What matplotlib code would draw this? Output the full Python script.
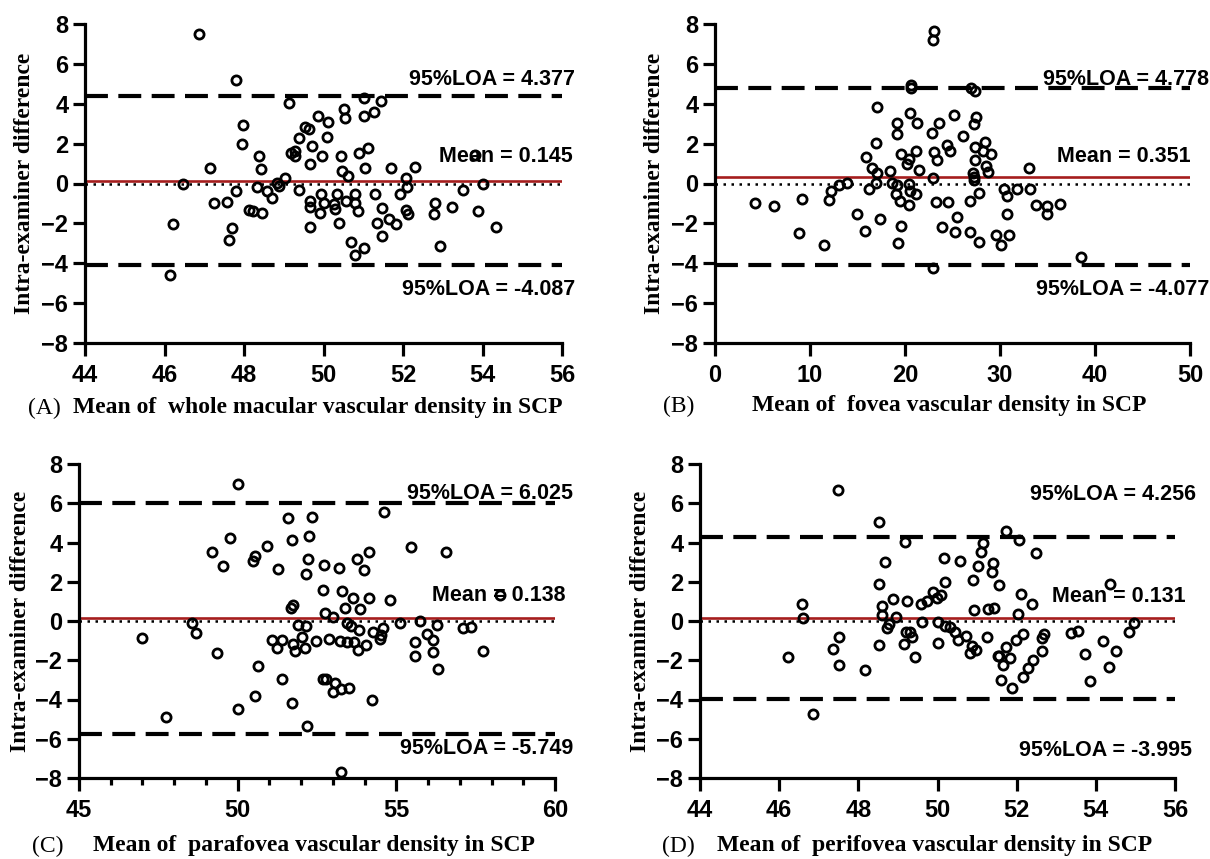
import matplotlib
matplotlib.use('Agg')
import matplotlib.pyplot as plt
from matplotlib.ticker import MultipleLocator

# (A) whole macular vascular density in SCP
whole_x = [46.86, 47.81, 49.14, 47.97, 47.94, 47.15, 46.47, 46.21, 46.14, 47.24,
           47.56, 47.80, 47.70, 47.63, 48.38, 48.42, 48.33, 48.13, 48.23, 48.45,
           48.59, 48.71, 48.83, 48.88, 49.02, 49.17, 49.29, 49.29, 49.38, 49.38,
           49.53, 49.63, 49.67, 49.72, 49.87, 49.96, 50.11, 50.09, 49.67, 49.65,
           49.65, 49.91, 49.94, 50.01, 50.27, 50.30, 50.35, 50.40, 50.44, 50.47,
           50.51, 50.54, 50.62, 50.57, 50.70, 50.78, 50.80, 50.88, 50.78, 50.90,
           51.01, 51.01, 51.03, 51.05, 51.11, 51.27, 51.30, 51.44, 51.34, 51.48,
           51.48, 51.64, 51.69, 51.83, 51.93, 52.08, 52.11, 52.08, 52.13, 52.29,
           52.80, 52.78, 52.93, 53.23, 53.50, 53.81, 53.88, 54.02, 54.34]
whole_y = [7.50, 5.20, 4.03, 2.94, 1.97, 0.76, -0.04, -2.05, -4.60, -1.00,
           -0.91, -0.38, -2.22, -2.85, 1.38, 0.71, -0.16, -1.33, -1.38, -1.50,
           -0.38, -0.71, 0.04, -0.12, 0.29, 1.55, 1.63, 1.38, 2.30, -0.33,
           2.84, 2.72, 0.97, 1.89, 3.39, 1.38, 3.06, 2.35, -0.88, -1.18,
           -2.17, -1.50, -0.54, -0.96, -1.05, -1.30, -0.54, -2.00, 1.38, 0.63,
           3.73, 3.28, 0.38, -0.88, -2.92, -0.54, -0.96, -1.38, -3.59, 1.55,
           -3.22, 4.31, 3.39, 0.80, 1.80, 3.59, -0.54, 4.15, -1.97, -1.21,
           -2.64, -1.80, 0.80, -2.02, -0.54, 0.29, -0.16, -1.33, -1.55, 0.85,
           -0.96, -1.55, -3.14, -1.16, -0.33, 1.43, -1.38, -0.01, -2.17]

# (B) fovea vascular density in SCP
fovea_x = [23.06, 22.98, 20.61, 20.61, 26.94, 27.35, 17.06, 20.49, 19.18, 19.18,
           21.22, 25.18, 23.59, 22.86, 27.47, 27.27, 26.12, 16.94, 23.06, 23.39,
           24.41, 24.69, 19.59, 21.14, 20.41, 20.20, 21.43, 27.35, 27.35, 28.37,
           28.16, 29.10, 28.49, 28.69, 15.92, 16.53, 17.02, 18.37, 22.94, 27.14,
           27.22, 33.06, 16.94, 16.24, 13.88, 13.06, 12.24, 12.04, 18.65, 19.18,
           19.06, 20.41, 20.53, 21.14, 19.51, 20.41, 23.27, 24.49, 26.86, 27.76,
           4.20, 6.20, 9.18, 8.86, 11.43, 14.98, 15.84, 17.35, 19.59, 19.31,
           23.88, 25.43, 25.31, 26.82, 27.76, 30.41, 30.73, 31.84, 30.73, 29.59,
           30.08, 30.90, 33.18, 33.80, 34.90, 34.90, 36.33, 22.94, 38.49, 27.30]
fovea_y = [7.66, 7.19, 4.93, 4.81, 4.81, 4.64, 3.84, 3.55, 3.03, 2.46,
           3.05, 3.42, 3.05, 2.54, 3.33, 2.96, 2.36, 2.04, 1.57, 1.20,
           1.91, 1.63, 1.49, 1.63, 1.24, 0.96, 0.68, 1.81, 1.20, 2.07,
           1.65, 1.48, 0.90, 0.57, 1.32, 0.77, 0.51, 0.63, 0.29, 0.51,
           0.17, 0.77, 0.04, -0.29, 0.04, -0.08, -0.39, -0.81, 0.04, -0.08,
           -0.55, -0.04, -0.38, -0.51, -0.89, -1.06, -0.94, -0.94, -0.86, -0.48,
           -0.96, -1.13, -0.76, -2.46, -3.08, -1.51, -2.37, -1.79, -2.11, -2.97,
           -2.16, -1.69, -2.41, -2.44, -2.91, -0.26, -0.63, -0.29, -1.51, -2.57,
           -3.07, -2.60, -0.29, -1.06, -1.15, -1.53, -1.03, -4.22, -3.71, 0.35]

# (C) parafovea vascular density in SCP
para_x = [50.01, 51.58, 52.34, 54.62, 49.77, 49.20, 49.53, 50.47, 50.55, 50.91,
          51.27, 51.72, 52.26, 52.22, 52.16, 52.72, 53.18, 53.75, 54.13, 53.99,
          55.46, 56.58, 52.70, 53.30, 53.63, 54.15, 54.80, 58.27, 51.67, 51.73,
          53.39, 53.87, 52.76, 52.99, 48.56, 48.68, 46.99, 49.34, 51.90, 52.16,
          53.45, 53.57, 53.81, 54.27, 54.57, 54.51, 54.47, 55.10, 55.74, 55.98,
          56.28, 57.10, 57.36, 51.09, 51.24, 51.41, 51.75, 51.82, 52.03, 52.12,
          52.46, 52.87, 53.24, 53.45, 53.67, 53.79, 54.03, 55.59, 55.59, 56.16,
          56.16, 56.32, 57.73, 50.64, 51.41, 52.69, 52.78, 53.08, 52.99, 53.27,
          53.51, 50.55, 51.70, 54.23, 50.01, 47.75, 52.18, 53.27]
para_y = [6.96, 5.26, 5.32, 5.54, 4.23, 3.51, 2.81, 3.06, 3.31, 3.81,
          2.64, 4.15, 4.35, 3.14, 2.39, 2.86, 2.69, 3.18, 3.53, 2.59,
          3.78, 3.53, 1.58, 1.51, 1.18, 1.18, 1.05, 1.30, 0.68, 0.83,
          0.68, 0.63, 0.41, 0.21, -0.08, -0.61, -0.85, -1.62, -0.18, -0.24,
          -0.08, -0.24, -0.46, -0.57, -0.34, -0.70, -0.90, -0.08, -0.01, -0.66,
          -0.21, -0.38, -0.33, -0.98, -1.36, -0.98, -1.16, -1.55, -0.80, -1.40,
          -1.00, -0.90, -1.03, -1.07, -1.07, -1.50, -1.20, -1.07, -1.76, -0.98,
          -1.57, -2.46, -1.55, -2.27, -2.94, -2.94, -2.94, -3.14, -3.61, -3.44,
          -3.39, -3.81, -4.18, -4.03, -4.48, -4.87, -5.37, -7.71]

# (D) perifovea vascular density in SCP
peri_x = [47.48, 48.52, 49.19, 48.67, 48.51, 48.59, 48.59, 48.77, 48.72, 48.96,
          48.87, 49.24, 48.51, 49.16, 49.21, 49.30, 49.36, 49.43, 49.58, 49.73,
          49.88, 49.99, 50.09, 50.19, 50.16, 50.56, 49.60, 50.02, 50.19, 50.31,
          50.43, 50.53, 50.73, 50.02, 50.88, 50.98, 50.83, 50.90, 51.02, 51.10,
          51.15, 51.39, 51.37, 51.56, 50.92, 51.27, 51.44, 51.25, 51.52, 51.56,
          51.66, 51.74, 51.84, 51.61, 51.88, 51.74, 52.05, 52.10, 52.03, 51.98,
          52.15, 52.15, 52.28, 52.42, 52.38, 52.50, 52.63, 52.70, 52.65, 53.37,
          53.55, 53.72, 53.86, 54.19, 54.33, 54.35, 54.50, 54.84, 54.96, 46.57,
          46.59, 46.22, 47.37, 47.52, 47.52, 48.18, 46.86]
peri_y = [6.66, 5.07, 4.01, 3.02, 1.89, 0.76, 0.29, -0.13, -0.38, 0.18,
          1.13, 1.01, -1.21, -1.18, -0.54, -0.54, -0.80, -1.83, 0.85, 1.01,
          1.47, 1.18, 1.30, 2.00, 3.19, 3.06, -0.04, -0.04, -0.24, -0.29,
          -0.54, -0.96, -0.75, -1.10, -1.27, -1.47, -1.63, 2.09, 2.81, 3.51,
          3.98, 2.96, 2.51, 1.84, 0.58, 0.59, 0.68, -0.80, -1.76, -1.76,
          -2.22, -1.30, -1.88, -3.02, -3.39, 4.60, 4.11, 1.38, 0.38, -0.99,
          -0.68, -2.85, -2.42, -1.97, 0.85, 3.48, -0.87, -0.66, -1.55, -0.62,
          -0.50, -1.67, -3.06, -1.04, -2.35, 1.89, -1.53, -0.58, -0.09, 0.85,
          0.13, -1.85, -1.43, -0.80, -2.22, -2.50, -4.73]

means = [0.145, 0.351, 0.138, 0.131]
upper = [4.377, 4.778, 6.025, 4.256]
lower = [-4.087, -4.077, -5.749, -3.995]
letters = ['(A)', '(B)', '(C)', '(D)']
titles = ['Mean of  whole macular vascular density in SCP',
          'Mean of  fovea vascular density in SCP',
          'Mean of  parafovea vascular density in SCP',
          'Mean of  perifovea vascular density in SCP']

W, H = 1210, 859
fig = plt.figure(figsize=(W / 100, H / 100), dpi=100)

# axes boxes in pixels: left, right, top, bottom
boxes = [(85, 562, 24, 343), (715, 1190, 24, 343),
         (79, 555, 464, 778), (700, 1175, 464, 778)]
xlims = [(44, 56), (0, 50), (45, 60), (44, 56)]
xsteps = [2, 10, 5, 2]
# right edge of the three labels (data units)
text_x = [(56.33, 56.28, 56.33), (52.0, 50.1, 52.0),
          (60.58, 60.33, 60.57), (56.53, 56.27, 56.42)]
text_y = [(5.2, 1.35, -5.3), (5.23, 1.37, -5.3),
          (6.49, 1.30, -6.49), (6.44, 1.25, -6.58)]
# caption positions in pixels: letter left, title left, y
captions = [(28, 73, 408), (663, 752, 406), (32, 93, 846), (662, 717, 846)]
ylabel_x = [25, 655, 21, 641]

data = [(whole_x, whole_y), (fovea_x, fovea_y), (para_x, para_y), (peri_x, peri_y)]

sans = 'Liberation Sans'
serif = 'Liberation Serif'

for i in range(4):
    l, r, t, b = boxes[i]
    ax = fig.add_axes([l / W, 1 - b / H, (r - l) / W, (b - t) / H])
    x, y = data[i]

    ax.axhline(0, color='black', linestyle=(0, (1, 2.2)), linewidth=1.8, zorder=1)
    ax.axhline(upper[i], color='black', linestyle=(0, (5.5, 2.5)), linewidth=3, zorder=2)
    ax.axhline(lower[i], color='black', linestyle=(0, (5.5, 2.5)), linewidth=3, zorder=2)
    ax.axhline(means[i], color='#a51d1d', linewidth=1.9, zorder=2)
    ax.plot(x, y, 'o', markersize=6.6, markerfacecolor='none',
            markeredgecolor='black', markeredgewidth=2.0, zorder=4, clip_on=False)

    ax.set_xlim(*xlims[i])
    ax.set_ylim(-8, 8)
    ax.xaxis.set_major_locator(MultipleLocator(xsteps[i]))
    ax.yaxis.set_major_locator(MultipleLocator(2))
    if i == 2:
        ax.xaxis.set_minor_locator(MultipleLocator(1))
        ax.tick_params(axis='x', which='minor', length=5, width=2.3)

    for s in ['top', 'right']:
        ax.spines[s].set_visible(False)
    for s in ['left', 'bottom']:
        ax.spines[s].set_linewidth(2.3)
    ax.tick_params(axis='both', which='major', length=9, width=2.3)
    ax.tick_params(axis='x', which='major', pad=6)
    ax.tick_params(axis='y', which='major', pad=3)
    for lab in ax.get_xticklabels() + ax.get_yticklabels():
        lab.set_fontfamily(sans)
        lab.set_fontweight('bold')
        lab.set_fontsize(17)

    tx = text_x[i]
    ty = text_y[i]
    ax.text(tx[0], ty[0], '95%%LOA = %.3f' % upper[i], ha='right', va='center',
            fontsize=15.5, fontweight='bold', family=sans, zorder=3)
    ax.text(tx[1], ty[1], 'Mean = %.3f' % means[i], ha='right', va='center',
            fontsize=15.5, fontweight='bold', family=sans, zorder=3)
    ax.text(tx[2], ty[2], '95%%LOA = %.3f' % lower[i], ha='right', va='center',
            fontsize=15.5, fontweight='bold', family=sans, zorder=3)

    fig.text(ylabel_x[i] / W, 1 - (t + b) / 2 / H, 'Intra-examiner difference',
             rotation=90, ha='center', va='center', fontsize=17,
             fontweight='bold', family=serif)

    cl, ct, cy = captions[i]
    fig.text(cl / W, 1 - cy / H, letters[i], ha='left', va='center',
             fontsize=17, family=serif)
    fig.text(ct / W, 1 - cy / H, titles[i], ha='left', va='center',
             fontsize=17, fontweight='bold', family=serif)

fig.savefig('out.png', dpi=100)
